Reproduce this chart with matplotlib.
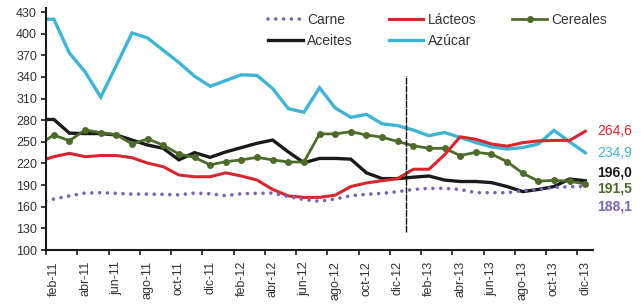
import matplotlib
matplotlib.use("Agg")
import matplotlib.pyplot as plt
from matplotlib.lines import Line2D
import numpy as np

plt.rcParams['font.family'] = ['Liberation Sans', 'DejaVu Sans']

# meses ene-11 .. dic-13 (ene-11 queda fuera del eje, solo para el arranque de las lineas)
nombres = ['ene', 'feb', 'mar', 'abr', 'may', 'jun', 'jul', 'ago', 'sep', 'oct', 'nov', 'dic']
meses = [f"{m}-{a}" for a in ('11', '12', '13') for m in nombres]

carne = [165.5, 170.7, 175.0, 179.0, 179.5, 178.6, 177.5, 177.6, 177.2, 176.5, 179.0, 178.0,
         175.4, 178.0, 178.6, 179.0, 174.0, 170.0, 167.6, 170.7, 175.4, 177.2, 178.6, 180.9,
         184.0, 185.5, 185.5, 184.0, 179.5, 179.5, 179.5, 182.3, 184.1, 186.8, 187.7, 188.1]
lacteos = [222.6, 229.4, 234.0, 229.4, 231.0, 231.0, 228.0, 220.5, 215.5, 204.0, 201.6, 201.6,
           207.0, 202.6, 197.0, 184.0, 175.0, 173.0, 173.0, 176.0, 188.0, 193.0, 196.0, 199.0,
           212.0, 212.0, 232.0, 257.0, 253.5, 247.0, 244.0, 248.8, 251.3, 252.0, 252.0, 264.6]
cereales = [245.5, 259.5, 251.5, 266.5, 262.7, 260.0, 247.0, 254.0, 245.5, 233.0, 228.5, 218.0,
            222.5, 225.0, 228.5, 225.0, 222.0, 222.0, 261.0, 261.0, 264.0, 259.5, 256.5, 250.5,
            244.6, 241.0, 241.0, 231.0, 235.5, 233.0, 222.5, 206.5, 195.5, 196.5, 195.5, 191.5]
aceites = [281.0, 281.0, 262.0, 261.5, 261.5, 259.5, 252.5, 245.6, 241.0, 225.0, 235.0, 228.5,
           236.0, 242.0, 248.0, 252.5, 236.0, 221.0, 227.0, 227.0, 226.0, 207.0, 199.0, 199.0,
           201.0, 202.6, 197.0, 195.0, 195.0, 193.5, 188.0, 181.0, 184.0, 188.0, 198.5, 196.0]
azucar = [420.0, 420.0, 373.0, 347.0, 312.0, 356.0, 401.0, 394.0, 377.0, 360.0, 341.0, 327.0,
          335.0, 343.0, 342.0, 324.0, 296.0, 291.0, 325.0, 297.0, 284.0, 288.0, 275.0, 272.5,
          266.4, 258.5, 263.0, 256.0, 249.0, 243.0, 240.0, 242.0, 247.0, 266.0, 250.0, 234.9]

c_carne = '#7b62b8'
c_lact = '#d7262e'
c_cer = '#4f6b2b'
c_ace = '#1a1a1a'
c_azu = '#3fb4d4'

x = np.arange(-1, 35)

fig = plt.figure(figsize=(6.41, 3.04), dpi=100)
ax = fig.add_axes([0.0718, 0.1776, 0.8534, 0.7947])

ax.plot(x, azucar, color=c_azu, lw=2.4, solid_joinstyle='miter')
ax.plot(x, aceites, color=c_ace, lw=2.4, solid_joinstyle='miter')
ax.plot(x, cereales, color=c_cer, lw=2.0, marker='o', ms=4)
ax.plot(x, lacteos, color=c_lact, lw=2.2)
ax.plot(x, carne, color=c_carne, lw=2.6, linestyle=(0, (0.01, 2.15)), dash_capstyle='round')

# linea vertical entre dic-12 y ene-13
ax.plot([22.5, 22.5], [125, 341], color='#111111', lw=1.0, linestyle=(0, (5, 0.6)))

ax.set_xlim(-0.5, 34.5)
ax.set_ylim(100, 435)
ax.set_yticks(np.arange(100, 431, 30))

ax.set_xticks(np.arange(-0.5, 34, 2))
ax.set_xticklabels([])
ax.set_xticks(np.arange(0, 35, 2), minor=True)
ax.set_xticklabels(meses[1::2], minor=True, rotation=90)

for s in ['top', 'right']:
    ax.spines[s].set_visible(False)
for s in ['left', 'bottom']:
    ax.spines[s].set_linewidth(1.5)
    ax.spines[s].set_color('#1a1a1a')

ax.tick_params(axis='y', direction='out', length=3.5, width=1.2, pad=3,
               labelsize=9, labelcolor='#333333', color='#1a1a1a')
ax.tick_params(axis='x', which='major', direction='out', length=3.5, width=1.2, color='#1a1a1a')
ax.tick_params(axis='x', which='minor', length=0, pad=8, labelsize=9, labelcolor='#333333')

# valores finales
ax.text(34.78, 264.6, '264,6', color=c_lact, fontsize=10, va='center', clip_on=False)
ax.text(34.78, 234.5, '234,9', color=c_azu, fontsize=10, va='center', clip_on=False)
ax.text(34.78, 207, '196,0', color=c_ace, fontsize=10, va='center', fontweight='bold', clip_on=False)
ax.text(34.78, 185.5, '191,5', color=c_cer, fontsize=10, va='center', fontweight='bold', clip_on=False)
ax.text(34.78, 161, '188,1', color=c_carne, fontsize=10, va='center', fontweight='bold', clip_on=False)

handles = [
    Line2D([], [], color=c_carne, lw=2.6, linestyle=(0, (0.01, 2.15)), dash_capstyle='round'),
    Line2D([], [], color=c_ace, lw=2.4),
    Line2D([], [], color=c_lact, lw=2.2),
    Line2D([], [], color=c_azu, lw=2.4),
    Line2D([], [], color=c_cer, lw=2.0, marker='o', ms=4),
]
labels = ['Carne', 'Aceites', 'Lácteos', 'Azúcar', 'Cereales']
fig.legend(handles, labels, ncol=3, loc='upper left', bbox_to_anchor=(268 / 641, 1 - 13 / 304),
           frameon=False, fontsize=10, handlelength=2.5, handletextpad=0.3,
           columnspacing=2.6, labelspacing=0.5, borderpad=0, borderaxespad=0,
           labelcolor='#333333')

fig.savefig('out.png', dpi=100)
